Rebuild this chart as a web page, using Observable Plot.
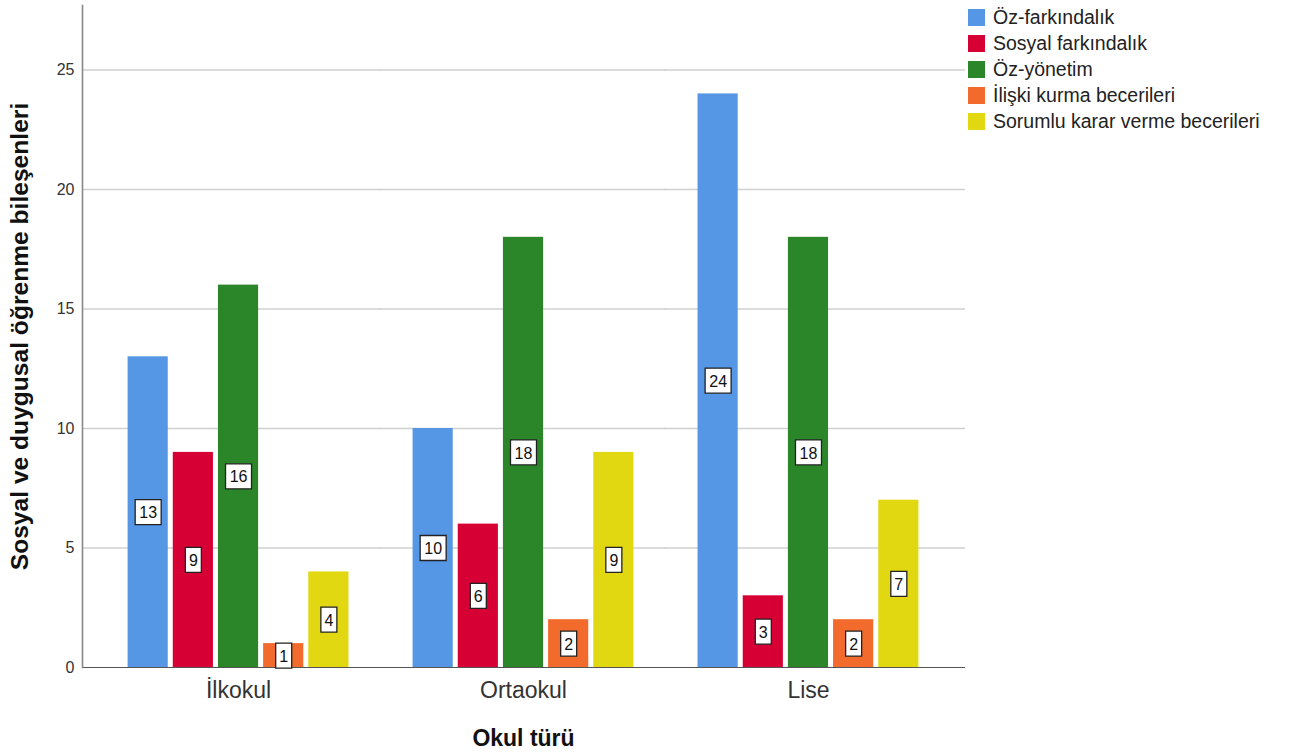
<!DOCTYPE html>
<html>
<head>
<meta charset="utf-8">
<script src="https://cdn.jsdelivr.net/npm/d3@7"></script>
<script src="https://cdn.jsdelivr.net/npm/@observablehq/plot@0.6"></script>
<style>
  html, body { margin: 0; padding: 0; background: #fff; }
  #wrap { position: relative; width: 1289px; height: 756px; font-family: "Liberation Sans", Arial, sans-serif; }
  #legend { position: absolute; left: 968px; top: 4px; }
  .li { display: flex; align-items: center; height: 26.2px; font-size: 19.5px; color: #222; }
  .sw { width: 17px; height: 17px; margin-right: 8px; }
</style>
</head>
<body>
<div id="wrap"><div id="legend"></div></div>
<script>
const schools = ["İlkokul", "Ortaokul", "Lise"];
const components = ["Öz-farkındalık", "Sosyal farkındalık", "Öz-yönetim", "İlişki kurma becerileri", "Sorumlu karar verme becerileri"];
const colors = ["#5596E5", "#D60034", "#2A8629", "#F26A2C", "#E1D812"];
const valIlkokul = [13, 9, 16, 1, 4];
const valOrtaokul = [10, 6, 18, 2, 9];
const valLise = [24, 3, 18, 2, 7];
const yTicks = [0, 5, 10, 15, 20, 25];

const series = [valIlkokul, valOrtaokul, valLise];
const data = [];
schools.forEach((s, i) => components.forEach((c, j) => data.push({school: s, comp: c, value: series[i][j]})));

function boxSymbol(w, h) {
  return { draw(ctx) { ctx.rect(-w / 2, -h / 2, w, h); } };
}
const one = data.filter(d => String(d.value).length === 1);
const two = data.filter(d => String(d.value).length === 2);

// facets occupy 127.6..918.4; the axis frame is 82..965
const leftExt = 45.6, rightExt = 46.6, innerGap = 33;
const gridRows = (ticks, s) => ticks.map(t => ({school: s, y: t}));
const gridFor = (ticks, opts) => [
  Plot.ruleY(gridRows(ticks, schools[0]), { fx: "school", y: "y", insetLeft: -leftExt, insetRight: -innerGap, ...opts }),
  Plot.ruleY(gridRows(ticks, schools[1]), { fx: "school", y: "y", insetLeft: -innerGap, insetRight: -innerGap, ...opts }),
  Plot.ruleY(gridRows(ticks, schools[2]), { fx: "school", y: "y", insetLeft: -innerGap, insetRight: -rightExt, ...opts })
];

const chart = Plot.plot({
  width: 1289,
  height: 756,
  marginLeft: 127.6,
  marginRight: 370.6,
  marginTop: 5,
  marginBottom: 89,
  style: { fontFamily: "'Liberation Sans', Arial, sans-serif", background: "transparent" },
  fx: { domain: schools, paddingInner: 0.225, paddingOuter: 0, round: false, label: null },
  x: { domain: components, paddingInner: 0.111, paddingOuter: 0, round: false, axis: null },
  y: { domain: [0, 27.7], ticks: yTicks, label: null },
  color: { domain: components, range: colors },
  marks: [
    ...gridFor(yTicks.filter(t => t > 0), { stroke: "#d0d0d0", strokeWidth: 1.6 }),
    Plot.barY(data, { fx: "school", x: "comp", y: "value", fill: "comp" }),
    ...gridFor([0], { stroke: "#555", strokeWidth: 1.2 }),
    Plot.frame({ anchor: "left", dx: -leftExt, stroke: "#888", strokeWidth: 1.6, facet: "super" }),
    Plot.dot(one, { fx: "school", x: "comp", y: d => d.value / 2, symbol: boxSymbol(16, 25), r: 5, fill: "white", stroke: "#222", strokeWidth: 1.3 }),
    Plot.dot(two, { fx: "school", x: "comp", y: d => d.value / 2, symbol: boxSymbol(26, 25), r: 5, fill: "white", stroke: "#222", strokeWidth: 1.3 }),
    Plot.text(data, { fx: "school", x: "comp", y: d => d.value / 2, text: d => String(d.value), fontSize: 16, fill: "#111", dy: 1 }),
    Plot.axisY({ ticks: yTicks, tickSize: 0, tickPadding: 8, dx: -leftExt, fontSize: 16, color: "#333", label: null }),
    Plot.axisFx({ anchor: "bottom", tickSize: 0, tickPadding: 14, fontSize: 23, color: "#333", label: null }),
    Plot.text(["Okul türü"], { frameAnchor: "bottom", dy: 78, fontSize: 23, fontWeight: "bold", fill: "#111", facet: "super" }),
    Plot.text(["Sosyal ve duygusal öğrenme bileşenleri"], { frameAnchor: "left", textAnchor: "middle", dx: 20 - 127.6, rotate: -90, fontSize: 24.6, fontWeight: "bold", fill: "#111", facet: "super" })
  ]
});
document.getElementById("wrap").prepend(chart);

const legend = document.getElementById("legend");
components.forEach((c, i) => {
  const row = document.createElement("div");
  row.className = "li";
  const sw = document.createElement("div");
  sw.className = "sw";
  sw.style.background = colors[i];
  const t = document.createElement("span");
  t.textContent = c;
  row.appendChild(sw); row.appendChild(t);
  legend.appendChild(row);
});
</script>
</body>
</html>
